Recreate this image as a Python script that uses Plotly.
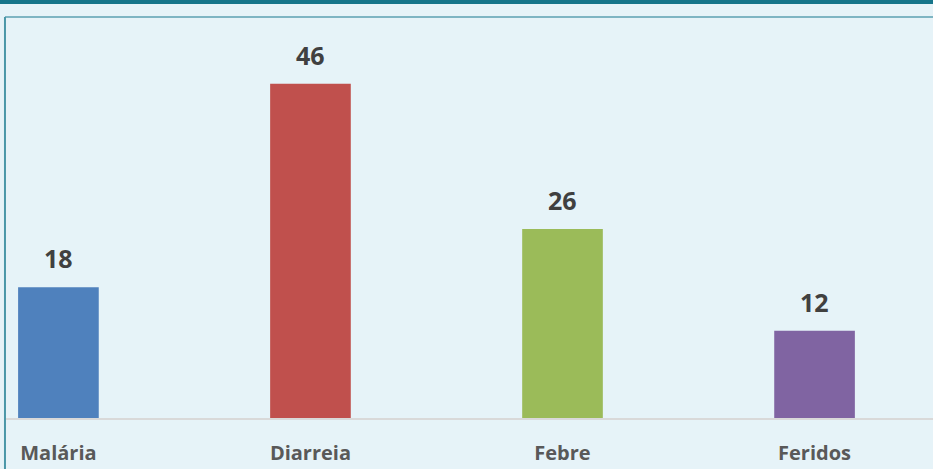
import plotly.graph_objects as go

categories = ["Malária", "Diarreia", "Febre", "Feridos"]
values = [18, 46, 26, 12]
colors = ["#4F81BD", "#C0504D", "#9BBB59", "#8064A2"]

fig = go.Figure()
fig.add_trace(go.Bar(x=categories, y=values, marker=dict(color=colors, line=dict(width=0)),
                     width=0.32, showlegend=False))

# value labels above bars
for c, v in zip(categories, values):
    fig.add_annotation(x=c, y=v, text=str(v), showarrow=False, yanchor="bottom", yshift=10,
                       font=dict(family="Open Sans", size=25, color="#404040", weight="bold"))

# decoration: dark top band + frame border
fig.add_shape(type="rect", xref="paper", yref="paper", x0=-0.01, x1=1.01, y0=1.0324, y1=1.05,
              fillcolor="#16758A", line=dict(width=0), layer="above")
fig.add_shape(type="line", xref="paper", yref="paper", x0=-0.0011, x1=1.01, y0=1.0, y1=1.0,
              line=dict(color="#7EB5C3", width=2))
fig.add_shape(type="line", xref="paper", yref="paper", x0=-0.0011, x1=-0.0011, y0=1.0, y1=-0.2,
              line=dict(color="#4A97A8", width=2))

fig.update_xaxes(range=[-0.208, 3.47], showline=True, linecolor="#D9D9D9", linewidth=2,
                 showgrid=False, ticks="", ticklabelstandoff=16,
                 tickfont=dict(family="Open Sans", size=20, color="#595959", weight="bold"))
fig.update_yaxes(range=[0, 55.2], showticklabels=False, showgrid=False, zeroline=False)

fig.update_layout(width=933, height=469, margin=dict(l=6, r=0, t=17, b=51),
                  paper_bgcolor="#E6F3F8", plot_bgcolor="#E6F3F8")
# page body has a default 8px margin; drop it so the figure fills the window
fig.write_html("out.html", config={"displayModeBar": False},
               post_script="document.body.style.margin='0';")
